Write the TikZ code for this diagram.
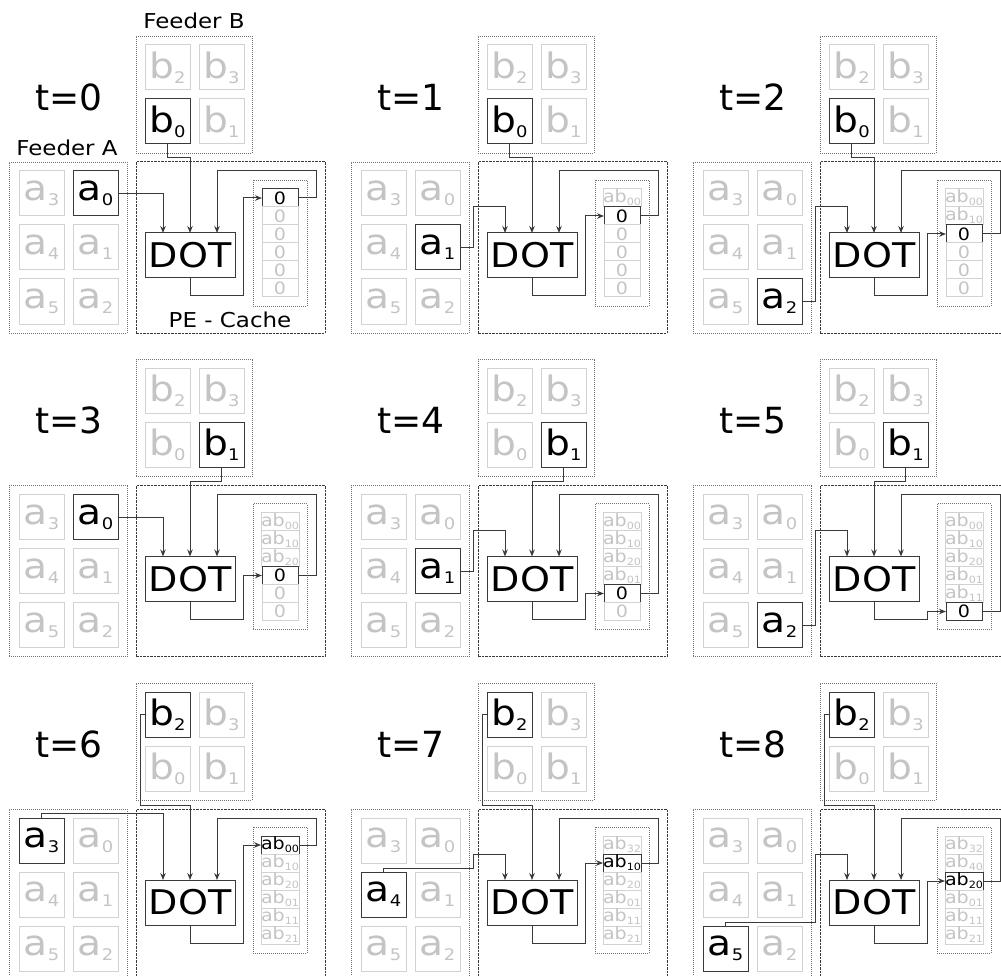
\documentclass[tikz,border=0pt]{standalone}
\usepackage{fontspec}
\setmainfont{DejaVu Sans}
\newfontfamily\widefont{DejaVu Sans}[FakeStretch=1.12]
\usepackage{graphicx}
\usepackage{tikz}
\usetikzlibrary{arrows.meta}
\definecolor{lineGray}{HTML}{3A3A3A}
\definecolor{idleGray}{HTML}{C4C4C4}
\definecolor{idleEdge}{HTML}{D2D2D2}
\newcommand\lowidx[1]{\raisebox{-5pt}{\fontsize{16}{16}\selectfont #1}}
\newcommand\cidx[1]{\raisebox{-3pt}{\fontsize{10}{10}\selectfont #1}}
\tikzset{
  cellon/.style={draw=lineGray, text=black, line width=1pt},
  celloff/.style={draw=idleEdge, text=idleGray, line width=1pt},
  cellstate/.code 2 args={\ifnum#1=#2\relax\pgfkeysalso{cellon}\else\pgfkeysalso{celloff}\fi},
  cell/.style={minimum width=45pt, minimum height=45pt, inner sep=0pt, outer sep=0pt, font=\widefont\fontsize{35}{35}\selectfont},
  slot/.style={minimum width=36pt, minimum height=18pt, inner sep=0pt, outer sep=0pt, font=\widefont\fontsize{17}{17}\selectfont},
  feeder/.style={draw=black!55, line width=0.9pt, dash pattern=on 1pt off 1pt, inner sep=0pt},
  pebox/.style={draw=lineGray, line width=1pt, dash pattern=on 2.5pt off 1pt, inner sep=0pt},
  dotbox/.style={draw=lineGray, line width=1pt, minimum width=90pt, minimum height=45pt, inner sep=0pt, outer sep=0pt},
  arr/.style={-{Stealth[length=7pt,width=5.5pt]}, draw=lineGray, line width=1pt},
  title/.style={font=\fontsize{36}{36}\selectfont},
  lbl/.style={font=\widefont\fontsize{20.5}{20.5}\selectfont}
}
% #1 time step, #2 column, #3 row, #4 active a, #5 active b, #6 active slot, #7 slot contents
\newcommand\stage[7]{%
\begin{scope}[shift={(#2*342,#3*323.5)}]
  \node[title] (t#1) at (69,97) {t=#1};
  \node[feeder, minimum width=116pt, minimum height=117pt] (fb#1) at (194,94.5) {};
  \node[feeder, minimum width=118pt, minimum height=171pt] (fa#1) at (68,247.5) {};
  \node[pebox, minimum width=189pt, minimum height=171pt] (pe#1) at (230.5,247.5) {};
  \node[feeder, minimum width=54pt, minimum height=126pt] (ca#1) at (280,243) {};
  \foreach \i/\x/\y in {2/167.5/67.5, 3/221.5/67.5, 0/167.5/121.5, 1/221.5/121.5}
    \node[cell, cellstate={\i}{#5}] (b#1-\i) at (\x,\y) {b\lowidx{\i}};
  \foreach \i/\x/\y in {3/41.5/193.5, 0/95.5/193.5, 4/41.5/247.5, 1/95.5/247.5, 5/41.5/301.5, 2/95.5/301.5}
    \node[cell, cellstate={\i}{#4}] (a#1-\i) at (\x,\y) {a\lowidx{\i}};
  \foreach \entry [count=\k from 0] in {#7}
    \node[slot, cellstate={\k}{#6}] (s#1-\k) at (280,198+18*\k) {\entry};
  \node[dotbox] (dot#1) at (190,255.5) {\widefont\fontsize{34}{34}\selectfont DOT};
  % bends
  \coordinate (jog#1) at (131,207);
  \coordinate (bend#1) at (140,158);
  \coordinate (loop#1) at (316,171);
  \coordinate (out#1) at (243,296);
  % feeder A -> DOT
  \ifcase#4
    \draw[arr] (a#1-0.east) -| ([xshift=-27pt]dot#1.north);
  \or
    \draw[arr] (a#1-1.east) -| (jog#1) -| ([xshift=-27pt]dot#1.north);
  \or
    \draw[arr] (a#1-2.east) -| (jog#1) -| ([xshift=-27pt]dot#1.north);
  \or
    \draw[arr] (a#1-3.north) -- ++(0,-5) -| ([xshift=-27pt]dot#1.north);
  \or
    \draw[arr] (a#1-4.north) -- ++(0,-4) -| (jog#1) -| ([xshift=-27pt]dot#1.north);
  \or
    \draw[arr] (a#1-5.north) -- ++(0,-4) -| (jog#1) -| ([xshift=-27pt]dot#1.north);
  \fi
  % feeder B -> DOT
  \ifnum#5<2
    \draw[arr] (b#1-#5.south) -- ++(0,14) -| (dot#1.north);
  \else
    \draw[arr] (b#1-2.west) -| (bend#1) -| (dot#1.north);
  \fi
  % cache loop
  \draw[arr] (s#1-#6.east) -| (loop#1) -| ([xshift=27pt]dot#1.north);
  \draw[arr] (dot#1.south) |- (out#1) |- (s#1-#6.west);
\end{scope}}

\begin{document}
\begin{tikzpicture}[x=1pt,y=-1pt]
\clip (0,0) rectangle (1001,976);
\stage{0}{0}{0}{0}{0}{0}{0,0,0,0,0,0}
\stage{1}{1}{0}{1}{0}{1}{ab\cidx{00},0,0,0,0,0}
\stage{2}{2}{0}{2}{0}{2}{ab\cidx{00},ab\cidx{10},0,0,0,0}
\stage{3}{0}{1}{0}{1}{3}{ab\cidx{00},ab\cidx{10},ab\cidx{20},0,0,0}
\stage{4}{1}{1}{1}{1}{4}{ab\cidx{00},ab\cidx{10},ab\cidx{20},ab\cidx{01},0,0}
\stage{5}{2}{1}{2}{1}{5}{ab\cidx{00},ab\cidx{10},ab\cidx{20},ab\cidx{01},ab\cidx{11},0}
\stage{6}{0}{2}{3}{2}{0}{ab\cidx{00},ab\cidx{10},ab\cidx{20},ab\cidx{01},ab\cidx{11},ab\cidx{21}}
\stage{7}{1}{2}{4}{2}{1}{ab\cidx{32},ab\cidx{10},ab\cidx{20},ab\cidx{01},ab\cidx{11},ab\cidx{21}}
\stage{8}{2}{2}{5}{2}{2}{ab\cidx{32},ab\cidx{40},ab\cidx{20},ab\cidx{01},ab\cidx{11},ab\cidx{21}}
\node[lbl] (fbname) at (194,21) {Feeder B};
\node[lbl] (faname) at (67,148) {Feeder A};
\node[lbl] (pename) at (230,320) {PE - Cache};
\end{tikzpicture}
\end{document}
